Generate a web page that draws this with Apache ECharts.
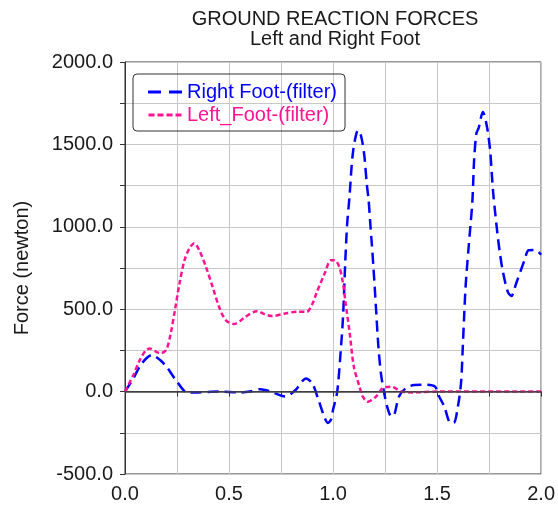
<!DOCTYPE html>
<html>
<head>
<meta charset="utf-8">
<script src="https://cdn.jsdelivr.net/npm/echarts@6/dist/echarts.min.js"></script>
<style>
  html, body { margin: 0; padding: 0; background: #ffffff; }
  #chart { width: 558px; height: 507px; }
</style>
</head>
<body>
<div id="chart"></div>
<script>
// values
var rightTime = [0, 0.04, 0.08, 0.13, 0.17, 0.2, 0.25, 0.3, 0.35, 0.45, 0.55, 0.6, 0.65, 0.7, 0.77, 0.82, 0.87, 0.9, 0.93, 0.96, 0.975, 0.99, 1.0, 1.02,
  1.037, 1.048, 1.059, 1.068, 1.079, 1.089, 1.097, 1.11, 1.12, 1.13, 1.14, 1.151, 1.162, 1.171, 1.179, 1.186, 1.194, 1.206, 1.218, 1.23, 1.243,
  1.26, 1.28, 1.294, 1.317, 1.349, 1.39, 1.45, 1.49, 1.51, 1.535, 1.56, 1.58, 1.6, 1.615, 1.623, 1.63, 1.638, 1.65, 1.66, 1.67, 1.678, 1.689,
  1.7, 1.72, 1.74, 1.755, 1.763, 1.77, 1.778, 1.79, 1.8, 1.815, 1.84, 1.857, 1.88, 1.92, 1.94, 1.97, 2.0];
var rightForce = [0, 80, 170, 222, 190, 150, 60, -5, -5, 0, -5, 0, 15, 0, -30, 10, 80, 50, -50, -160, -190, -170, -110, 0,
  250, 454, 797, 1020, 1181, 1363, 1464, 1555, 1585, 1570, 1520, 1424, 1262, 1161, 1020, 900, 757, 515, 272, 112, 10,
  -91, -150, -142, -30, 20, 40, 42, 30, -30, -91, -185, -190, -91, 50, 252, 454, 656, 850, 1000, 1161, 1404, 1567,
  1600, 1697, 1606, 1464, 1323, 1202, 1100, 960, 858, 737, 605, 580, 656, 797, 858, 860, 830];

var leftTime = [0, 0.04, 0.071, 0.1, 0.119, 0.145, 0.17, 0.198, 0.22, 0.24, 0.262, 0.286, 0.31, 0.333, 0.357, 0.389, 0.421, 0.452, 0.484,
  0.524, 0.555, 0.579, 0.635, 0.67, 0.706, 0.77, 0.83, 0.873, 0.9, 0.92, 0.96, 0.99, 1.008, 1.03, 1.048, 1.06, 1.08, 1.1, 1.127, 1.143,
  1.167, 1.206, 1.238, 1.278, 1.33, 1.38, 1.5, 2.0];
var leftForce = [0, 100, 191, 250, 262, 245, 233, 253, 355, 495, 656, 797, 870, 900, 858, 757, 636, 515, 434,
  410, 430, 454, 488, 470, 458, 474, 485, 484, 530, 597, 718, 797, 797, 757, 656, 540, 355, 151, 30, -31,
  -61, -31, 20, 30, 0, -5, 0, 0];

var seriesNames = ["Right Foot-(filter)", "Left_Foot-(filter)"];
var seriesColors = ["#0000ff", "#ff1493"];

var xMin = 0, xMax = 2.0, xStep = 0.25, xLabelStep = 0.5;
var yMin = -500, yMax = 2000, yStep = 250, yLabelStep = 500;

function pairs(t, v) {
  var out = [];
  for (var i = 0; i < t.length; i++) out.push([t[i], v[i]]);
  return out;
}

// legend samples: long dashes / short dashes
var longDashIcon = "path://M0,0h13v3h-13z M21,0h13v3h-13z";
var shortDashIcon = "path://M0,0h6v3h-6z M9,0h6v3h-6z M18,0h6v3h-6z M27,0h6v3h-6z";

var font = "'Liberation Sans', Arial, sans-serif";
var chart = echarts.init(document.getElementById("chart"));

chart.setOption({
  animation: false,
  title: {
    text: "GROUND REACTION FORCES",
    subtext: "Left and Right Foot",
    left: 335,
    textAlign: "center",
    top: 9,
    padding: 0,
    itemGap: 0,
    textStyle: { fontFamily: font, fontSize: 20, fontWeight: "normal", color: "#1a1a1a", lineHeight: 20 },
    subtextStyle: { fontFamily: font, fontSize: 20, color: "#1a1a1a", lineHeight: 20 }
  },
  legend: {
    orient: "vertical",
    left: 133,
    top: 74,
    padding: [8, 8, 6, 15],
    itemGap: 3,
    itemWidth: 34,
    itemHeight: 3,
    borderColor: "#333",
    borderWidth: 1,
    borderRadius: 4,
    data: [
      { name: seriesNames[0], icon: longDashIcon, textStyle: { color: seriesColors[0] } },
      { name: seriesNames[1], icon: shortDashIcon, textStyle: { color: seriesColors[1] } }
    ],
    textStyle: { fontFamily: font, fontSize: 20 }
  },
  grid: {
    left: 125,
    right: 12,
    top: 62,
    bottom: 33,
    show: true,
    borderColor: "#333",
    borderWidth: 1
  },
  xAxis: {
    type: "value",
    min: xMin,
    max: xMax,
    interval: xStep,
    axisLine: { lineStyle: { color: "#333", width: 1 } },
    axisTick: { show: true, length: 5, lineStyle: { color: "#333" } },
    axisLabel: {
      margin: 10,
      fontFamily: font,
      fontSize: 20,
      color: "#1a1a1a",
      formatter: function (v) {
        return Math.abs(v / xLabelStep - Math.round(v / xLabelStep)) < 1e-6 ? v.toFixed(1) : "";
      }
    },
    splitLine: { show: true, lineStyle: { color: "#c8c8c8", width: 1 } }
  },
  yAxis: {
    type: "value",
    min: yMin,
    max: yMax,
    interval: yStep,
    name: "Force (newton)",
    nameLocation: "middle",
    nameGap: 93,
    nameTextStyle: { fontFamily: font, fontSize: 20, color: "#1a1a1a" },
    axisLine: { show: true, lineStyle: { color: "#333", width: 1 } },
    axisTick: { show: true, length: 5, lineStyle: { color: "#333" } },
    axisLabel: {
      margin: 12,
      fontFamily: font,
      fontSize: 20,
      color: "#1a1a1a",
      formatter: function (v) {
        return v % yLabelStep === 0 ? v.toFixed(1) : "";
      }
    },
    splitLine: { show: true, lineStyle: { color: "#c8c8c8", width: 1 } }
  },
  series: [
    {
      name: seriesNames[0],
      type: "line",
      data: pairs(rightTime, rightForce),
      showSymbol: false,
      symbol: "none",
      smooth: 0.3,
      color: seriesColors[0],
      lineStyle: { color: seriesColors[0], width: 2.5, type: [11, 6] },
      z: 3,
      markLine: {
        silent: true,
        symbol: "none",
        label: { show: false },
        lineStyle: { color: "#444", type: "solid", width: 1.5 },
        data: [{ yAxis: 0 }]
      }
    },
    {
      name: seriesNames[1],
      type: "line",
      data: pairs(leftTime, leftForce),
      showSymbol: false,
      symbol: "none",
      smooth: 0.3,
      color: seriesColors[1],
      lineStyle: { color: seriesColors[1], width: 2.5, type: [5, 3] },
      z: 4
    }
  ]
});
</script>
</body>
</html>
